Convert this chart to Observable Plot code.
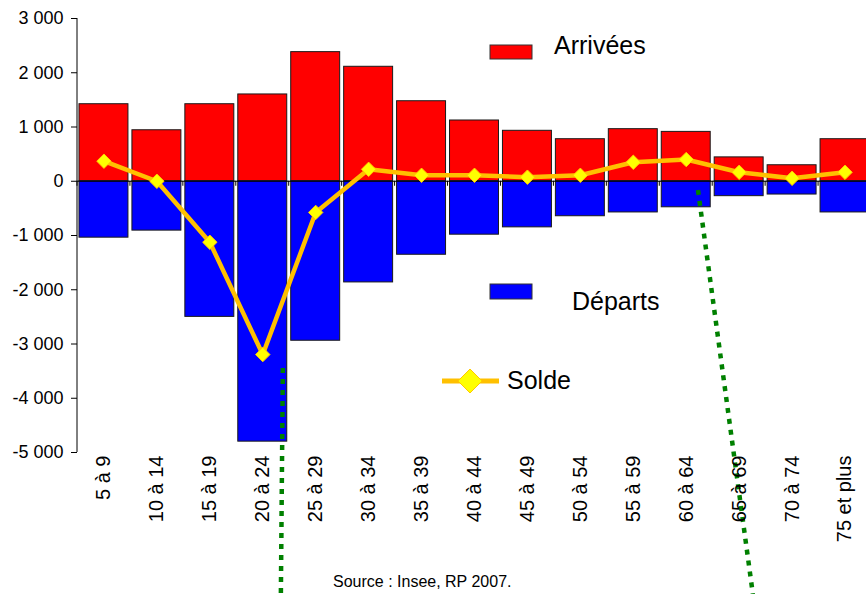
<!DOCTYPE html>
<html><head><meta charset="utf-8">
<script src="https://cdn.jsdelivr.net/npm/d3@7"></script>
<script src="https://cdn.jsdelivr.net/npm/@observablehq/plot@0.6"></script>
<style>
html,body{margin:0;padding:0;overflow:hidden;background:#fff}
#wrap{position:relative;width:866px;height:594px;overflow:hidden}
#wrap svg{max-width:none !important}
#overlay{position:absolute;left:0;top:0;pointer-events:none}
</style></head><body><div id="wrap"></div>
<script>
const categories = ["5 à 9","10 à 14","15 à 19","20 à 24","25 à 29","30 à 34","35 à 39","40 à 44","45 à 49","50 à 54","55 à 59","60 à 64","65 à 69","70 à 74","75 et plus"];
const arrivees = [1420, 940, 1420, 1600, 2380, 2110, 1475, 1120, 930, 775, 960, 910, 440, 295, 775];
const departs = [-1040, -910, -2500, -4800, -2940, -1865, -1355, -985, -850, -645, -575, -480, -275, -245, -575];
const solde = [370, 0, -1125, -3195, -575, 220, 110, 110, 75, 110, 350, 400, 165, 55, 165];
const yTicks = [-5000, -4000, -3000, -2000, -1000, 0, 1000, 2000, 3000];
const legendLabels = ["Arrivées", "Départs", "Solde"];
const sourceText = "Source : Insee, RP 2007.";
// stray dotted annotation strokes (category, fraction of band, value)
const annotations = [
  {cat1: "20 à 24", f1: 0.92, v1: -3450, cat2: "20 à 24", f2: 0.88, v2: -7620},
  {cat1: "60 à 64", f1: 0.75, v1: -170, cat2: "65 à 69", f2: 0.79, v2: -7620}
];

const rows = categories.map((cat, i) => ({cat, arr: arrivees[i], dep: departs[i], sol: solde[i]}));
const fmt = d3.formatLocale({decimal: ",", thousands: "\u00a0", grouping: [3], currency: ["", ""], minus: "-"}).format(",");
const FONT = "'Liberation Sans', Arial, sans-serif";

function bw(x) { return typeof x.bandwidth === "function" ? x.bandwidth() : x.bandwidth; }
function st(x) { return typeof x.step === "function" ? x.step() : x.step; }

const extras = (index, scales, values, dims) => {
  const x = scales.x, y = scales.y;
  const g = d3.create("svg:g");
  g.append("line").attr("x1", dims.marginLeft).attr("x2", dims.marginLeft)
    .attr("y1", y(yTicks[yTicks.length - 1])).attr("y2", y(yTicks[0]))
    .attr("stroke", "#000").attr("stroke-width", 1);
  const b = bw(x), s = st(x), gap = (s - b) / 2;
  const bounds = categories.map(c => x(c) - gap).concat([x(categories[categories.length - 1]) + b + gap]);
  for (const bx of bounds) {
    g.append("line").attr("x1", bx).attr("x2", bx).attr("y1", y(0)).attr("y2", y(0) + 5)
      .attr("stroke", "#000").attr("stroke-width", 1);
  }
  for (const a of annotations) {
    g.append("line")
      .attr("x1", x(a.cat1) + a.f1 * b).attr("y1", y(a.v1))
      .attr("x2", x(a.cat2) + a.f2 * b).attr("y2", y(a.v2))
      .attr("stroke", "#008000").attr("stroke-width", 4.5).attr("stroke-dasharray", "5,6");
  }
  return g.node();
};

const plot = Plot.plot({
  width: 871, height: 594,
  marginTop: 18, marginBottom: 142, marginLeft: 77, marginRight: 0,
  style: {fontFamily: FONT, color: "#000", background: "#fff", overflow: "visible", maxWidth: "none"},
  x: {domain: categories, paddingInner: 0.075, paddingOuter: 0.0375, round: false, label: null},
  y: {domain: [-5000, 3000], label: null},
  marks: [
    Plot.barY(rows, {x: "cat", y1: () => 0, y2: "arr", fill: "#FF0000", stroke: "#1a1a1a", strokeWidth: 1}),
    Plot.barY(rows, {x: "cat", y1: () => 0, y2: "dep", fill: "#0000FF", stroke: "#1a1a1a", strokeWidth: 1}),
    Plot.ruleY([0], {stroke: "#000", strokeWidth: 1.2}),
    extras,
    Plot.line(rows, {x: "cat", y: "sol", stroke: "#FFC000", strokeWidth: 4.5}),
    Plot.dot(rows, {x: "cat", y: "sol", symbol: "diamond2", r: 6.5, fill: "#FFFF00", stroke: "#FFC800", strokeWidth: 1}),
    Plot.axisY({ticks: yTicks, tickFormat: fmt, tickSize: 6, tickPadding: 8, fontSize: 18, label: null}),
    Plot.axisX({tickSize: 0, tickRotate: -90, tickPadding: 3, fontSize: 20, label: null})
  ]
});
const wrap = document.getElementById("wrap");
wrap.appendChild(plot);

const ov = d3.select(wrap).append("svg").attr("id", "overlay").attr("width", 866).attr("height", 594)
  .style("font-family", FONT);
ov.append("rect").attr("x", 490).attr("y", 45).attr("width", 42).attr("height", 14)
  .attr("fill", "#FF0000").attr("stroke", "#333").attr("stroke-width", 1);
ov.append("text").attr("x", 554).attr("y", 54).attr("font-size", 25).text(legendLabels[0]);
ov.append("rect").attr("x", 490).attr("y", 284).attr("width", 42).attr("height", 15)
  .attr("fill", "#0000FF").attr("stroke", "#333").attr("stroke-width", 1);
ov.append("text").attr("x", 572).attr("y", 310).attr("font-size", 25).text(legendLabels[1]);
ov.append("line").attr("x1", 442).attr("x2", 499).attr("y1", 381).attr("y2", 381)
  .attr("stroke", "#FFC000").attr("stroke-width", 5);
ov.append("path").attr("d", "M470,369L482,381L470,393L458,381Z")
  .attr("fill", "#FFFF00").attr("stroke", "#FFC800").attr("stroke-width", 1);
ov.append("text").attr("x", 507).attr("y", 389).attr("font-size", 25).text(legendLabels[2]);
ov.append("text").attr("x", 333).attr("y", 587).attr("font-size", 16).text(sourceText);
</script></body></html>
